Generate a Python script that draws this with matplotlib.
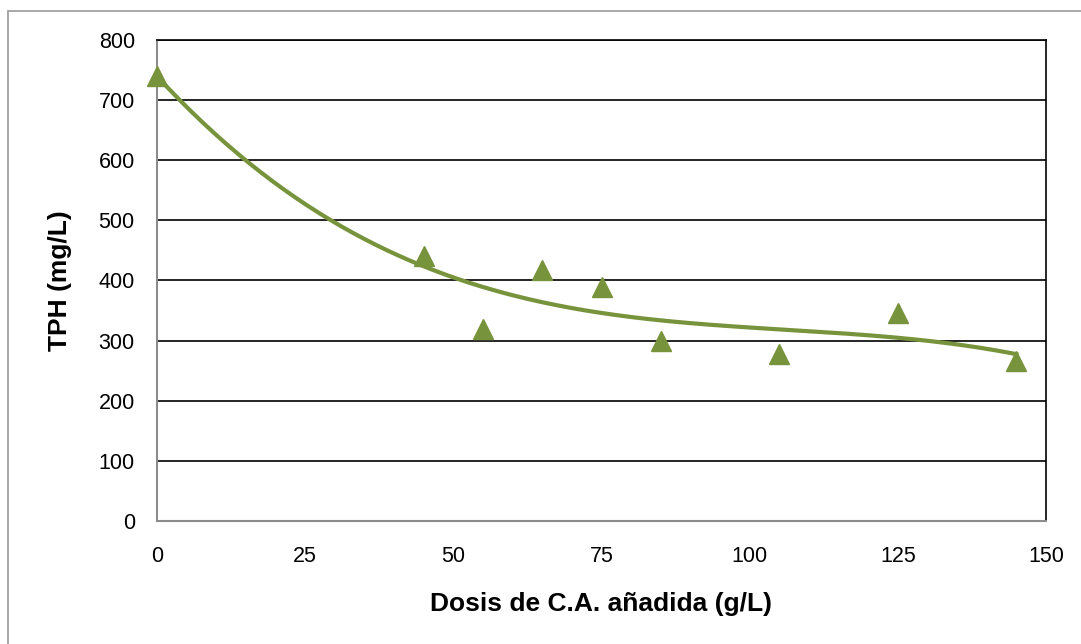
import numpy as np
import matplotlib
matplotlib.use("Agg")
import matplotlib.pyplot as plt
from matplotlib.patches import Rectangle

plt.rcParams['font.family'] = ['Liberation Sans', 'DejaVu Sans']

dosis = [0, 45, 55, 65, 75, 85, 105, 125, 145]
tph = [740, 440, 320, 418, 390, 300, 277, 346, 266]
x_ticks = [0, 25, 50, 75, 100, 125, 150]
y_ticks = [0, 100, 200, 300, 400, 500, 600, 700, 800]

green = '#77933C'

fig = plt.figure(figsize=(10.81, 6.44), dpi=100)
W, H = 1081, 644
ax = fig.add_axes([157 / W, 1 - 521 / H, (1046 - 157) / W, (521 - 40) / H])

# outer chart border
fig.patches.append(Rectangle((8 / W, -0.1), 1.2, 1 - 11 / H + 0.1, transform=fig.transFigure,
                             fill=False, edgecolor='#9a9a9a', linewidth=1.2))

ax.set_xlim(0, 150)
ax.set_ylim(0, 800)
ax.set_xticks(x_ticks)
ax.set_yticks(y_ticks)
ax.tick_params(length=0, labelsize=15.5)
ax.tick_params(axis='y', pad=16)
ax.tick_params(axis='x', pad=18)
ax.grid(axis='y', color='black', linewidth=1.2)
ax.set_axisbelow(True)
for s in ['left', 'bottom']:
    ax.spines[s].set_color('#8c8c8c')
    ax.spines[s].set_linewidth(1.5)
ax.spines['right'].set_color('black')
ax.spines['right'].set_linewidth(1.2)
ax.spines['top'].set_color('black')
ax.spines['top'].set_linewidth(1.2)

# polynomial trend line (order 3)
coef = np.polyfit(dosis, tph, 3)
xs = np.linspace(min(dosis), max(dosis), 300)
ax.plot(xs, np.polyval(coef, xs), color=green, linewidth=3, zorder=3)

ax.plot(dosis, tph, linestyle='none', marker='^', markersize=15, color=green,
        markeredgecolor=green, zorder=4, clip_on=False)

ax.set_xlabel('Dosis de C.A. añadida (g/L)', fontsize=19, fontweight='bold', va='center')
ax.xaxis.set_label_coords(0.5, -0.1726)
ax.set_ylabel('TPH (mg/L)', fontsize=19, fontweight='bold', va='center', ha='center')
ax.yaxis.set_label_coords(-0.109, 0.499)

fig.savefig('out.png', dpi=100)
